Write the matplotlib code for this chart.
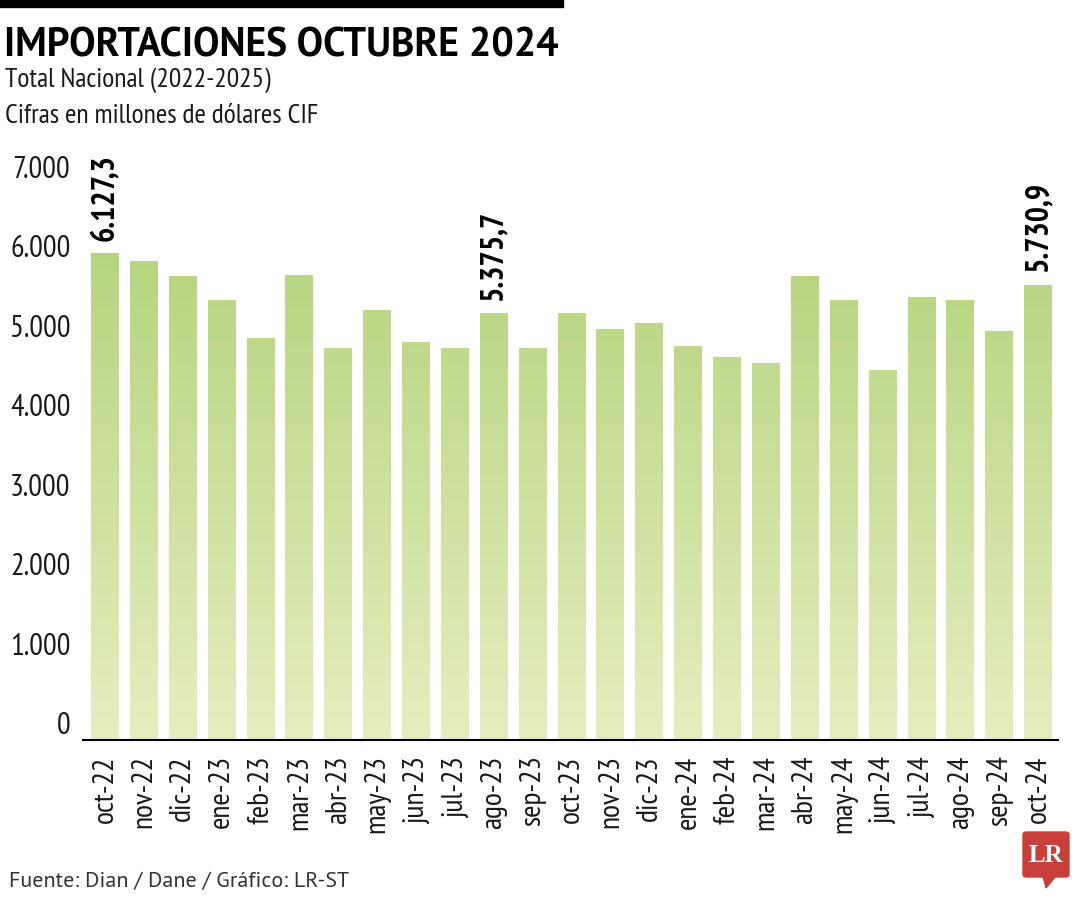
import matplotlib.pyplot as plt
import numpy as np
from matplotlib.colors import LinearSegmentedColormap
from matplotlib.patches import FancyBboxPatch, Polygon

NARROW = ['PT Sans Narrow', 'Liberation Sans', 'DejaVu Sans']
REGULAR = ['PT Sans', 'Liberation Sans', 'DejaVu Sans']
plt.rcParams['font.family'] = NARROW

# --- Data (millones de dólares CIF) ---
months = ["oct-22", "nov-22", "dic-22", "ene-23", "feb-23", "mar-23", "abr-23",
          "may-23", "jun-23", "jul-23", "ago-23", "sep-23", "oct-23", "nov-23",
          "dic-23", "ene-24", "feb-24", "mar-24", "abr-24", "may-24", "jun-24",
          "jul-24", "ago-24", "sep-24", "oct-24"]
values = [6127.3, 6030, 5842, 5536, 5057, 5858, 4939,
          5417, 5014, 4939, 5375.7, 4939, 5380, 5171,
          5246, 4960, 4826, 4746, 5842, 5536, 4654,
          5573, 5536, 5153, 5730.9]
labelled = ["oct-22", "ago-23", "oct-24"]
yticks = [0, 1000, 2000, 3000, 4000, 5000, 6000, 7000]

W, H = 1080, 900
fig = plt.figure(figsize=(W / 100, H / 100), dpi=100)
ax = fig.add_axes([83 / W, 160 / H, (1058 - 83) / W, (740 - 184) / H])

cmap = LinearSegmentedColormap.from_list("verde", ["#e6edbf", "#b6d47f"])
x = np.arange(len(months))
bars = ax.bar(x, values, width=0.72, color="none", edgecolor="none")
for b in bars:
    x0, w, h = b.get_x(), b.get_width(), b.get_height()
    grad = np.linspace(0, h, 200).reshape(-1, 1)
    im = ax.imshow(grad, extent=[x0, x0 + w, 0, h], origin="lower",
                   aspect="auto", cmap=cmap, vmin=0, vmax=6200, zorder=2)
    im.set_clip_path(b)

ax.set_xlim(-0.566, len(months) - 1 + 0.51)
ax.set_ylim(0, 7000)

for m, xi, v in zip(months, x, values):
    if m in labelled:
        txt = f"{v:,.1f}".replace(",", "X").replace(".", ",").replace("X", ".")
        ax.annotate(txt, (xi, v), xytext=(0, 9), textcoords="offset points",
                    rotation=90, ha="center", va="bottom", fontsize=23,
                    fontweight="bold", color="black", annotation_clip=False)

ax.set_xticks(x)
ax.set_xticklabels(months, rotation=90, fontsize=21.5, color="#1a1a1a")
ax.set_yticks(yticks)
ax.set_yticklabels([f"{t:,}".replace(",", ".") for t in yticks], fontsize=22,
                   color="#1a1a1a")
for lbl in ax.get_yticklabels():
    lbl.set_va("bottom")
ax.tick_params(axis="both", length=0)
ax.tick_params(axis="x", pad=11)
ax.tick_params(axis="y", pad=9)
for s in ["top", "right", "left"]:
    ax.spines[s].set_visible(False)
ax.spines["bottom"].set_linewidth(1.5)
ax.spines["bottom"].set_color("black")

# --- Titles ---
fig.add_artist(plt.Line2D([0, 560 / W], [1 - 4 / H, 1 - 4 / H], color="black",
                          linewidth=6, transform=fig.transFigure))
fig.text(4 / W, 1 - 46 / H, "IMPORTACIONES OCTUBRE 2024", fontsize=28.5,
         fontweight="bold", family=REGULAR, va="center", ha="left")
fig.text(5 / W, 1 - 80 / H, "Total Nacional (2022-2025)", fontsize=20,
         va="center", ha="left", color="#1a1a1a")
fig.text(5 / W, 1 - 116 / H, "Cifras en millones de dólares CIF", fontsize=20,
         va="center", ha="left", color="#1a1a1a")
fig.text(9 / W, 1 - 881 / H, "Fuente: Dian / Dane / Gráfico: LR-ST", fontsize=15.8,
         family=REGULAR, va="center", ha="left", color="#333333")

# --- LR logo ---
fig.add_artist(FancyBboxPatch((1023 / W, 1 - 877 / H), 46 / W, 45 / H,
                              boxstyle="round,pad=0,rounding_size=0.003",
                              transform=fig.transFigure, color="#c8403a"))
fig.add_artist(Polygon([[1043 / W, 1 - 876 / H], [1056 / W, 1 - 876 / H],
                        [1046 / W, 1 - 888 / H]], closed=True,
                       transform=fig.transFigure, color="#c8403a"))
fig.text(1046 / W, 1 - 855 / H, "LR", fontsize=18, fontweight="bold",
         family=["Liberation Serif", "DejaVu Serif"], color="white",
         ha="center", va="center")

fig.savefig("out.png", dpi=100)
